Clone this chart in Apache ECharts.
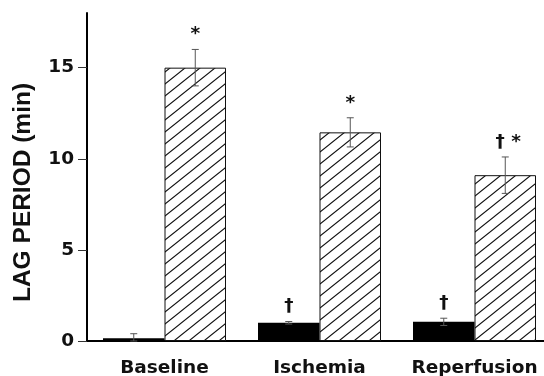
<!DOCTYPE html>
<html>
<head>
<meta charset="utf-8">
<script src="https://cdn.jsdelivr.net/npm/echarts@6/dist/echarts.min.js"></script>
<style>
html,body{margin:0;padding:0;background:#fff;}
#chart{width:544px;height:376px;}
</style>
</head>
<body>
<div id="chart"></div>
<script>
const categories = ['Baseline', 'Ischemia', 'Reperfusion'];
const controlMeans = [0.15, 1.0, 1.05];
const controlErr = [0.25, 0.07, 0.2];
const treatedMeans = [15.0, 11.45, 9.1];
const treatedErr = [1.0, 0.8, 1.0];
const controlMarks = ['', '†', '†'];
const treatedMarks = ['*', '*', '† *'];
const yMin = 0, yMax = 18, yInterval = 5;
const yTitle = 'LAG PERIOD (min)';

const BAR_W = 61.5;

// hatch pattern ("/" lines, ~39 degrees)
const tile = document.createElement('canvas');
const TW = 15, TH = 12;
tile.width = TW; tile.height = TH;
const tc = tile.getContext('2d');
tc.fillStyle = '#fff';
tc.fillRect(0, 0, TW, TH);
tc.strokeStyle = '#111';
tc.lineWidth = 1.1;
tc.beginPath();
for (let k = -1; k <= 1; k++) {
  const x0 = -2, x1 = TW + 2;
  tc.moveTo(x0, TH - (TH / TW) * x0 + k * TH);
  tc.lineTo(x1, TH - (TH / TW) * x1 + k * TH);
}
tc.stroke();

function errData(means, errs) {
  return means.map((m, i) => [i, m, errs[i]]);
}

function makeErr(side, marks) {
  return function (params, api) {
    const i = api.value(0);
    const m = api.value(1);
    const e = api.value(2);
    const mark = marks[params.dataIndex];
    const c = api.coord([i, m]);
    const x = c[0] + side * BAR_W / 2;
    const yHi = api.coord([i, m + e])[1];
    const yLo = api.coord([i, Math.max(0, m - e)])[1];
    const cap = 3.5;
    const style = { stroke: '#555', lineWidth: 1, fill: null };
    const children = [
      { type: 'line', shape: { x1: x, y1: yHi, x2: x, y2: yLo }, style: style },
      { type: 'line', shape: { x1: x - cap, y1: yHi, x2: x + cap, y2: yHi }, style: style },
      { type: 'line', shape: { x1: x - cap, y1: yLo, x2: x + cap, y2: yLo }, style: style }
    ];
    if (mark) {
      children.push({
        type: 'text',
        style: {
          text: mark, x: x + (mark.length > 1 ? 3 : 0), y: yHi - 15,
          align: 'center', verticalAlign: 'middle',
          font: 'bold 18.5px "DejaVu Sans"', fill: '#111'
        }
      });
    }
    return { type: 'group', children: children };
  };
}

const chart = echarts.init(document.getElementById('chart'), null, { renderer: 'canvas' });
chart.setOption({
  animation: false,
  backgroundColor: '#fff',
  grid: { left: 87, right: -8, top: 13, bottom: 35, containLabel: false, outerBoundsMode: 'none' },
  xAxis: {
    type: 'category',
    data: categories,
    axisLine: { lineStyle: { color: '#000', width: 2 } },
    axisTick: { show: false },
    axisLabel: {
      interval: 0, margin: 18, color: '#111',
      fontFamily: 'DejaVu Sans', fontWeight: 'bold', fontSize: 18.5
    },
    splitLine: { show: false }
  },
  yAxis: {
    type: 'value',
    min: yMin, max: yMax, interval: yInterval,
    name: yTitle,
    nameLocation: 'middle',
    nameGap: 51,
    nameRotate: 90,
    nameTextStyle: {
      fontFamily: '"Liberation Sans", Arial, sans-serif', fontWeight: 'bold', fontSize: 24.5, color: '#111',
      padding: [0, 31, 0, 0]
    },
    axisLine: { show: true, lineStyle: { color: '#000', width: 2 } },
    axisTick: { show: true, length: 9, lineStyle: { color: '#333', width: 1 } },
    axisLabel: {
      margin: 13, color: '#111', showMaxLabel: false,
      fontFamily: 'DejaVu Sans', fontWeight: 'bold', fontSize: 18.5
    },
    splitLine: { show: false }
  },
  series: [
    {
      type: 'bar', name: 'control',
      data: controlMeans,
      barWidth: BAR_W, barGap: '0%',
      itemStyle: { color: '#000' }
    },
    {
      type: 'bar', name: 'treated',
      data: treatedMeans,
      barWidth: BAR_W, barGap: '0%',
      itemStyle: { color: { image: tile, repeat: 'repeat' }, borderColor: '#111', borderWidth: 1 }
    },
    {
      type: 'custom', name: 'controlErr',
      data: errData(controlMeans, controlErr),
      encode: { x: 0, y: 1 },
      renderItem: makeErr(-1, controlMarks), z: 5
    },
    {
      type: 'custom', name: 'treatedErr',
      data: errData(treatedMeans, treatedErr),
      encode: { x: 0, y: 1 },
      renderItem: makeErr(1, treatedMarks), z: 5
    }
  ]
});
</script>
</body>
</html>
